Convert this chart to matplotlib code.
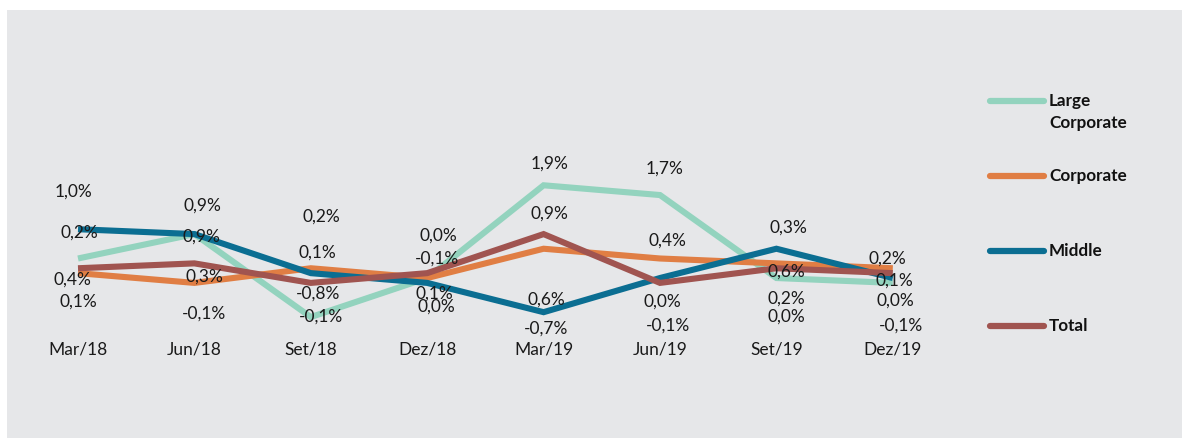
import matplotlib
matplotlib.use('Agg')
import matplotlib.pyplot as plt
from matplotlib.lines import Line2D
from matplotlib.patches import Rectangle

plt.rcParams['font.family'] = ['Lato', 'DejaVu Sans']

quarters  = ["Mar/18", "Jun/18", "Set/18", "Dez/18", "Mar/19", "Jun/19", "Set/19", "Dez/19"]
large_corp = [0.4, 0.9, -0.8, 0.0, 1.9, 1.7, 0.0, -0.1]
corporate  = [0.1, -0.1, 0.2, 0.0, 0.6, 0.4, 0.3, 0.2]
middle     = [1.0, 0.9, 0.1, -0.1, -0.7, 0.0, 0.6, 0.0]
total      = [0.2, 0.3, -0.1, 0.1, 0.9, -0.1, 0.2, 0.1]

series = [
    ("Large\nCorporate", large_corp, "#93D3BE"),
    ("Corporate",        corporate,  "#E07E44"),
    ("Middle",           middle,     "#0B6E92"),
    ("Total",            total,      "#A05450"),
]

# label offsets in pixels (dx, dy) -- labels in the original sit away from the points
label_offsets = {
    "Large\nCorporate": [(-6, -21), (7, -3), (7, 23), (11, 42), (6, 22), (5, 26), (10, -39), (8, -43)],
    "Corporate":        [(0, -28), (10, -31), (11, 52), (9, -29), (3, -51), (7, 18), (12, 36), (-5, 10)],
    "Middle":           [(-5, 38), (8, 28), (7, 21), (10, 24), (2, -16), (2, -24), (10, -23), (3, -23)],
    "Total":            [(1, 36), (10, -13), (10, -34), (7, -20), (6, 20), (8, -43), (10, -30), (2, -7)],
}

W, H = 1182, 438
fig = plt.figure(figsize=(W / 100, H / 100), dpi=100)
fig.patch.set_facecolor("white")
fig.add_artist(Rectangle((7 / W, 0), 1 - 7 / W, (H - 10) / H, transform=fig.transFigure,
                         facecolor="#E6E7E9", edgecolor="none", zorder=0))

# axes spans x: -0.5..7.5, y: -1.27..2.5
ax = fig.add_axes([19.8 / W, (H - 340) / H, (951 - 19.8) / W, (340 - 156) / H])
ax.set_facecolor("none")

x = list(range(len(quarters)))
for name, vals, col in series:
    ax.plot(x, vals, color=col, linewidth=4.4, solid_capstyle="butt", solid_joinstyle="miter", zorder=3)

for name, vals, col in series:
    for i, v in enumerate(vals):
        dx, dy = label_offsets[name][i]
        ax.annotate(f"{v:.1f}%".replace(".", ","), (i, v), xytext=(dx, dy), textcoords="offset pixels",
                    ha="center", va="center", fontsize=12.5, color="#1a1a1a", zorder=5)

ax.set_xlim(-0.5, 7.5)
ax.set_ylim(-1.27, 2.5)
ax.set_xticks(x)
ax.set_xticklabels(quarters, fontsize=12.5, color="#1a1a1a")
ax.tick_params(axis="x", length=0, pad=1)
ax.set_yticks([])
for s in ax.spines.values():
    s.set_visible(False)

# legend drawn by hand on the right
leg_y = [101, 176, 251, 326]
for (name, vals, col), ly in zip(series, leg_y):
    fy = (H - ly) / H
    fig.add_artist(Line2D([990 / W, 1044 / W], [fy, fy], transform=fig.transFigure,
                          color=col, linewidth=4.5, solid_capstyle="round"))
    fig.text(1049 / W, fy, name.split("\n")[0], fontsize=12.3, fontweight="bold",
             ha="left", va="center", color="#111111")
    if "\n" in name:
        fig.text(1049 / W, (H - ly - 22) / H, name.split("\n")[1], fontsize=12.3, fontweight="bold",
                 ha="left", va="center", color="#111111")

fig.savefig("out.png", dpi=100)
